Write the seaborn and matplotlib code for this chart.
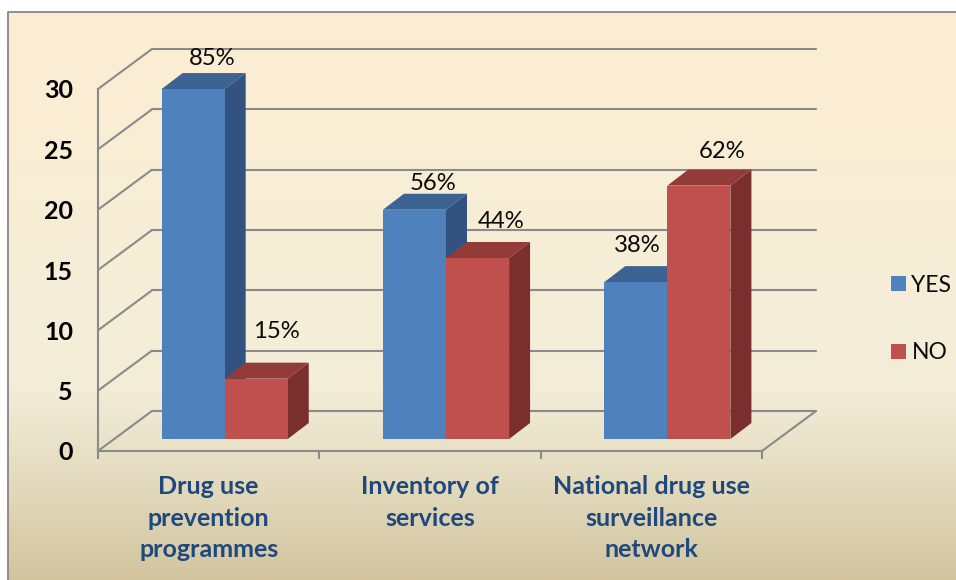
# 3D style clustered bars, drawn on a flat seaborn barplot
import numpy as np
import pandas as pd
import seaborn as sns
import matplotlib.pyplot as plt
from matplotlib.colors import LinearSegmentedColormap
from matplotlib.patches import Patch, Polygon

categories = ['Drug use\nprevention\nprogrammes', 'Inventory of\nservices', 'National drug use\nsurveillance\nnetwork']
yes_values = [29, 19, 13]
no_values = [5, 15, 21]
yes_labels = ['85%', '56%', '38%']
no_labels = ['15%', '44%', '62%']
y_ticks = [0, 5, 10, 15, 20, 25, 30]

sns.set_theme(style='white')
plt.rcParams['font.family'] = ['Lato', 'DejaVu Sans']

W, H = 956, 580
fig = plt.figure(figsize=(W / 100, H / 100), dpi=100, facecolor='white')

# background panel with the gradient and its grey border
bg = fig.add_axes([0, 0, 1, 1], zorder=0)
bg.set_xlim(0, W)
bg.set_ylim(H, 0)
bg.axis('off')
cmap = LinearSegmentedColormap.from_list('panel', [(0, '#fdeed2'), (0.66, '#f3edd9'), (0.8, '#e6dec3'), (1, '#d2c49f')])
bg.imshow(np.linspace(0, 1, 256).reshape(-1, 1), cmap=cmap, extent=(8, W, H, 12), aspect='auto')
bg.plot([8, 8, W], [H, 12, 12], color='#868686', lw=1.3)
bg.set_xlim(0, W)
bg.set_ylim(H, 0)

# plotting axes covers the front plane: x 98-762 px, y 451-89 px
left, right, top, bottom = 98, 762, 89, 451
ax = fig.add_axes([left / W, 1 - bottom / H, (right - left) / W, (bottom - top) / H], zorder=1)
ax.patch.set_alpha(0)

df = pd.DataFrame({
    'category': categories * 2,
    'count': yes_values + no_values,
    'answer': ['YES'] * 3 + ['NO'] * 3,
})
sns.barplot(data=df, x='category', y='count', hue='answer', palette=['#4f81bd', '#c0504d'],
            width=0.57, gap=0, saturation=1, legend=False, ax=ax)
ax.set_xlim(-0.5, 2.5)
ax.set_ylim(0, 30)

px_x = (right - left) / 3
px_y = (bottom - top) / 30
wall_dx, wall_dy = 54 / px_x, 40 / px_y      # depth of the chart box
shift_x, shift_y = 16 / px_x, 12 / px_y      # bars stand inside the box
bar_dx, bar_dy = 21 / px_x, 16 / px_y        # depth of one bar

line_color = '#8a8a8a'
line_w = 1.5

# back wall and the diagonals
for t in y_ticks:
    ax.plot([-0.5 + wall_dx, 2.5 + wall_dx], [t + wall_dy, t + wall_dy], color=line_color, lw=line_w, clip_on=False, zorder=1)
    ax.plot([-0.5, -0.5 + wall_dx], [t, t + wall_dy], color=line_color, lw=line_w, clip_on=False, zorder=1)
ax.plot([2.5, 2.5 + wall_dx], [0, wall_dy], color=line_color, lw=line_w, clip_on=False, zorder=1)

# move the flat bars into the box and add top and side faces
faces = [('#3c6392', '#325380'), ('#933b39', '#7a2f2e')]
for n, container in enumerate(ax.containers):
    top_col, side_col = faces[n]
    z = 3 + n
    for bar in container:
        bar.set_x(bar.get_x() + shift_x)
        bar.set_y(shift_y)
        bar.set_zorder(z + 0.2)
        bar.set_clip_on(False)
        bar.set_linewidth(0)
        x0 = bar.get_x()
        x1 = x0 + bar.get_width()
        y0 = shift_y
        y1 = shift_y + bar.get_height()
        ax.add_patch(Polygon([(x1, y0), (x1 + bar_dx, y0 + bar_dy), (x1 + bar_dx, y1 + bar_dy), (x1, y1)],
                             facecolor=side_col, lw=0, clip_on=False, zorder=z))
        ax.add_patch(Polygon([(x0, y1), (x0 + bar_dx, y1 + bar_dy), (x1 + bar_dx, y1 + bar_dy), (x1, y1)],
                             facecolor=top_col, lw=0, clip_on=False, zorder=z + 0.1))

# the percent labels were placed by hand in the source, offsets in px from bar top centre
yes_offset = [(19, 31), (19, 26), (1, 37)]
no_offset = [(20, 47), (24, 37), (23, 34)]
for container, labels, offsets in zip(ax.containers, [yes_labels, no_labels], [yes_offset, no_offset]):
    for bar, label, (ox, oy) in zip(container, labels, offsets):
        cx = bar.get_x() + bar.get_width() / 2
        ax.annotate(label, (cx, bar.get_y() + bar.get_height()), xytext=(ox * 0.72, oy * 0.72),
                    textcoords='offset points', ha='center', va='center', fontsize=17.2,
                    color='#0a0a0a', annotation_clip=False, zorder=8)

sns.despine(ax=ax, top=True, right=True)
for side in ['left', 'bottom']:
    ax.spines[side].set_color(line_color)
    ax.spines[side].set_linewidth(line_w)

ax.set_xlabel('')
ax.set_ylabel('')
ax.set_yticks(y_ticks)
ax.tick_params(axis='y', length=6, width=line_w, color=line_color, pad=12, labelsize=18, labelcolor='black')
ax.set_xticks([0, 1, 2], categories)
ax.set_xticks([-0.5, 0.5, 1.5, 2.5], minor=True)
ax.tick_params(axis='x', which='major', length=0, pad=17, labelsize=18, labelcolor='#1f497d')
ax.tick_params(axis='x', which='minor', length=6, width=line_w, color=line_color, bottom=True)
for lab in ax.get_yticklabels():
    lab.set_fontweight('bold')
for lab in ax.get_xticklabels():
    lab.set_fontweight('bold')
    lab.set_linespacing(1.47)

handles = [Patch(facecolor='#4f81bd', edgecolor='none', lw=0, label='YES'),
           Patch(facecolor='#c0504d', edgecolor='none', lw=0, label='NO')]
fig.legend(handles=handles, loc='center left', bbox_to_anchor=(870 / W, 1 - 319 / H), frameon=False,
           fontsize=16.5, handlelength=0.65, handleheight=0.65, handletextpad=0.26, labelspacing=2.05,
           labelcolor='#0a0a0a')

fig.savefig('out.png', dpi=100)
